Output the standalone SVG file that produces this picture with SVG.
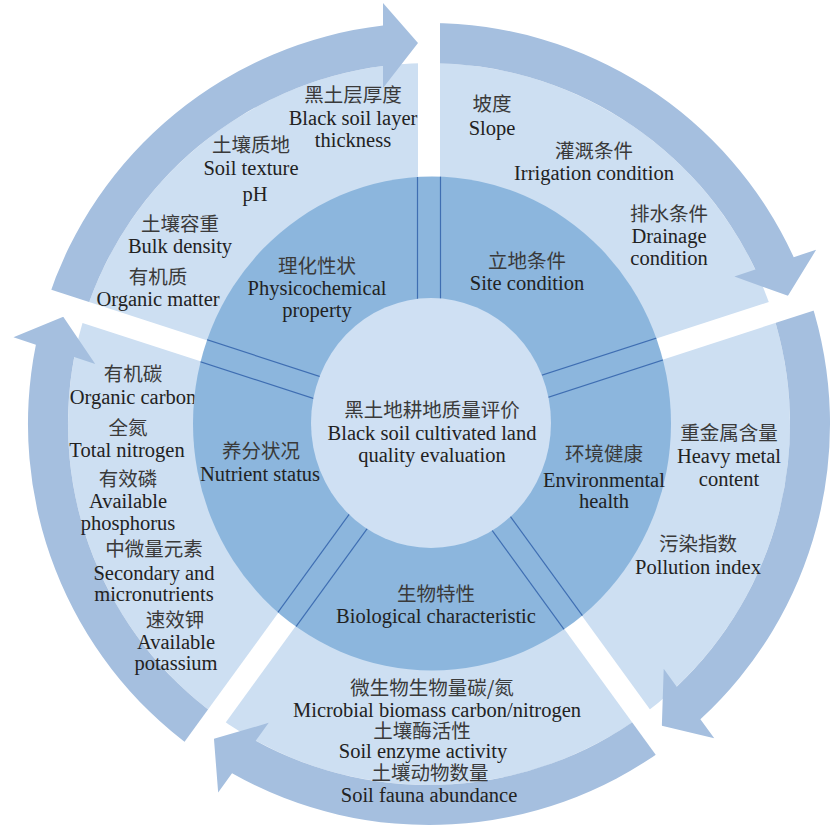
<svg xmlns="http://www.w3.org/2000/svg" width="831" height="828" viewBox="0 0 831 828">
<style>
.band{fill:#a5bfdf}
.gap{fill:#ffffff}
.sep{stroke:#3f6eb2;stroke-width:1.2;fill:none}
.en{font-family:"Liberation Serif","Times New Roman",serif;font-size:20.5px;fill:#222222;text-anchor:middle}
.zh{font-family:"Noto Sans CJK SC",sans-serif;font-size:19.5px;fill:#3a3a3a;text-anchor:middle}
</style>
<defs>
<clipPath id="ringClip"><ellipse cx="432" cy="423.5" rx="239" ry="247"/></clipPath>
</defs>
<rect width="831" height="828" fill="#ffffff"/>
<g id="backdrop"><circle cx="429" cy="424" r="361" fill="#cddff2"/></g>

<g id="sector-physicochemical">
<path class="band" d="M47.63 300.08 A401 401 0 0 1 383 25.6 L383 3 L418 43 L383 88 L383 65.9 A361 361 0 0 0 85.67 312.45 Z"/>
<text class="zh" x="353" y="102">黑土层厚度</text>
<text class="en" x="353" y="125">Black soil layer</text>
<text class="en" x="353" y="147">thickness</text>
<text class="zh" x="251" y="152">土壤质地</text>
<text class="en" x="251" y="175">Soil texture</text>
<text class="en" x="255" y="201">pH</text>
<text class="zh" x="180" y="231">土壤容重</text>
<text class="en" x="180" y="253">Bulk density</text>
<text class="zh" x="158" y="284">有机质</text>
<text class="en" x="158" y="306">Organic matter</text>
</g>

<g id="sector-site">
<path class="band" d="M429 23 A401 401 0 0 1 793.69 257.14 L816.13 249.84 L787.95 295.8 L734.35 276.43 L755.36 269.59 A361 361 0 0 0 429 63 Z"/>
<text class="zh" x="492" y="111">坡度</text>
<text class="en" x="492" y="135">Slope</text>
<text class="zh" x="594" y="158">灌溉条件</text>
<text class="en" x="594" y="180">Irrigation condition</text>
<text class="zh" x="669" y="221">排水条件</text>
<text class="en" x="669" y="243">Drainage</text>
<text class="en" x="669" y="265">condition</text>
</g>

<g id="sector-environment">
<path class="band" d="M810.37 300.08 A401 401 0 0 1 700.38 719.27 L714.26 738.37 L661.85 725.77 L663.71 668.79 L676.7 686.67 A361 361 0 0 0 772.33 312.45 Z"/>
<text class="zh" x="729" y="440">重金属含量</text>
<text class="en" x="729" y="463">Heavy metal</text>
<text class="en" x="729" y="486">content</text>
<text class="zh" x="698" y="551">污染指数</text>
<text class="en" x="698" y="574">Pollution index</text>
</g>

<g id="sector-biological">
<path class="band" d="M664.7 748.41 A401 401 0 0 1 232.04 773.35 L218.16 792.45 L213.95 738.71 L268.72 722.87 L255.72 740.75 A361 361 0 0 0 641.19 716.06 Z"/>
</g>

<g id="sector-nutrient">
<path class="band" d="M193.3 748.41 A401 401 0 0 1 35.89 344.64 L13.45 337.34 L63.25 316.72 L95.23 363.92 L74.22 357.09 A361 361 0 0 0 216.81 716.06 Z"/>
<text class="zh" x="133" y="381">有机碳</text>
<text class="en" x="133" y="404">Organic carbon</text>
<text class="zh" x="128" y="435">全氮</text>
<text class="en" x="127" y="457">Total nitrogen</text>
<text class="zh" x="128" y="486">有效磷</text>
<text class="en" x="128" y="508">Available</text>
<text class="en" x="128" y="530">phosphorus</text>
<text class="zh" x="154" y="556">中微量元素</text>
<text class="en" x="154" y="580">Secondary and</text>
<text class="en" x="154" y="601">micronutrients</text>
<text class="zh" x="175" y="627">速效钾</text>
<text class="en" x="176" y="649">Available</text>
<text class="en" x="176" y="670">potassium</text>
</g>

<g id="gaps">
<rect class="gap" x="0" y="-11" width="450" height="22" transform="translate(429 424) rotate(-90)"/>
<rect class="gap" x="0" y="-11" width="450" height="22" transform="translate(429 424) rotate(-18)"/>
<rect class="gap" x="0" y="-11" width="450" height="22" transform="translate(429 424) rotate(54)"/>
<rect class="gap" x="0" y="-11" width="450" height="22" transform="translate(429 424) rotate(126)"/>
<rect class="gap" x="0" y="-11" width="450" height="22" transform="translate(429 424) rotate(198)"/>
</g>

<g id="ring"><ellipse cx="432" cy="423.5" rx="239" ry="247" fill="#8cb6dd"/></g>

<g id="connectors" clip-path="url(#ringClip)">
<g transform="translate(429 424) rotate(-90)"><line class="sep" x1="0" y1="-11.5" x2="320" y2="-11.5"/><line class="sep" x1="0" y1="11.5" x2="320" y2="11.5"/></g>
<g transform="translate(429 424) rotate(-18)"><line class="sep" x1="0" y1="-11.5" x2="320" y2="-11.5"/><line class="sep" x1="0" y1="11.5" x2="320" y2="11.5"/></g>
<g transform="translate(429 424) rotate(54)"><line class="sep" x1="0" y1="-11.5" x2="320" y2="-11.5"/><line class="sep" x1="0" y1="11.5" x2="320" y2="11.5"/></g>
<g transform="translate(429 424) rotate(126)"><line class="sep" x1="0" y1="-11.5" x2="320" y2="-11.5"/><line class="sep" x1="0" y1="11.5" x2="320" y2="11.5"/></g>
<g transform="translate(429 424) rotate(198)"><line class="sep" x1="0" y1="-11.5" x2="320" y2="-11.5"/><line class="sep" x1="0" y1="11.5" x2="320" y2="11.5"/></g>
</g>

<g id="center">
<ellipse cx="431" cy="423" rx="120" ry="125" fill="#cfe0f3"/>
<text class="zh" x="432" y="417">黑土地耕地质量评价</text>
<text class="en" x="432" y="440">Black soil cultivated land</text>
<text class="en" x="432" y="462">quality evaluation</text>
</g>

<g id="cat-physicochemical">
<text class="zh" x="317" y="273">理化性状</text>
<text class="en" x="317" y="295">Physicochemical</text>
<text class="en" x="317" y="317">property</text>
</g>
<g id="cat-site">
<text class="zh" x="527" y="268">立地条件</text>
<text class="en" x="527" y="290">Site condition</text>
</g>
<g id="cat-environment">
<text class="zh" x="604" y="461">环境健康</text>
<text class="en" x="604" y="487">Environmental</text>
<text class="en" x="604" y="508">health</text>
</g>
<g id="cat-nutrient">
<text class="zh" x="261" y="458">养分状况</text>
<text class="en" x="260" y="481">Nutrient status</text>
</g>
<g id="cat-biological">
<text class="zh" x="436" y="601">生物特性</text>
<text class="en" x="436" y="623">Biological characteristic</text>
</g>

<g id="biological-indicators">
<text class="zh" x="432" y="695">微生物生物量碳/氮</text>
<text class="en" x="437" y="717">Microbial biomass carbon/nitrogen</text>
<text class="zh" x="422" y="738">土壤酶活性</text>
<text class="en" x="423" y="758">Soil enzyme activity</text>
<text class="zh" x="430" y="780">土壤动物数量</text>
<text class="en" x="429" y="802">Soil fauna abundance</text>
</g>
</svg>
